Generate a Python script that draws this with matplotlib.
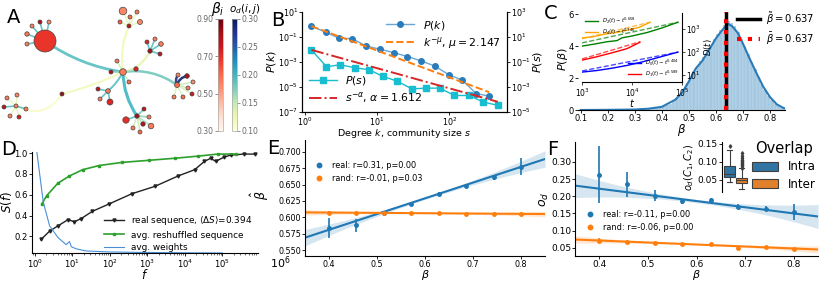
import numpy as np
import matplotlib
matplotlib.use('Agg')
import matplotlib.pyplot as plt
from matplotlib.patches import FancyArrowPatch, Patch
from matplotlib.lines import Line2D
from matplotlib.colors import Normalize
from matplotlib.cm import ScalarMappable
from matplotlib.ticker import FormatStrFormatter

W, H = 830, 281

# ---------------- A: community network ----------------
node_x = [45, 40, 32, 49, 27, 27, 123, 111, 117, 136, 129,
          123, 130, 137, 120, 129, 140,
          150, 147, 155, 161, 160,
          177, 178, 187, 193, 188, 192, 183, 174,
          108, 98, 100, 110,
          137, 144, 149, 126, 133, 143, 151, 140,
          62,
          16, 7, 17, 4, 26, 10, 19]
node_y = [41, 22, 26, 22, 34, 44, 72, 72, 61, 69, 82,
          11, 17, 12, 22, 26, 22,
          51, 42, 39, 44, 54,
          85, 75, 76, 82, 88, 94, 97, 97,
          91, 89, 99, 102,
          116, 109, 117, 120, 128, 124, 126, 132,
          94,
          106, 98, 95, 107, 109, 116, 117]
node_r = [11, 2, 2, 2, 2.2, 2, 3.3, 2, 2, 2.2, 2,
          3.8, 2, 2, 2, 2, 2.5,
          2.2, 2, 2, 2.3, 2,
          2.5, 2, 2.3, 2, 2, 2, 2, 2,
          2.3, 2, 2, 3,
          2.2, 2, 2, 3.2, 2, 2.2, 2.8, 2,
          2,
          2, 2, 2, 2, 2, 2, 2]
node_beta = [0.69, 0.80, 0.56, 0.55, 0.58, 0.56, 0.57, 0.80, 0.57, 0.72, 0.60,
             0.55, 0.60, 0.57, 0.62, 0.78, 0.55,
             0.82, 0.72, 0.57, 0.57, 0.78,
             0.60, 0.56, 0.80, 0.54, 0.57, 0.75, 0.60, 0.57,
             0.57, 0.78, 0.57, 0.72,
             0.82, 0.78, 0.57, 0.70, 0.57, 0.80, 0.57, 0.60,
             0.84,
             0.56, 0.57, 0.55, 0.78, 0.57, 0.56, 0.74]
# (source, target, overlap o_d, width, curvature)
edges = [(0, 6, 0.19, 2.0, 0.12), (6, 15, 0.12, 1.6, -0.15), (6, 17, 0.13, 1.6, 0.25),
         (6, 22, 0.18, 1.8, -0.2), (6, 34, 0.20, 2.2, 0.15), (6, 30, 0.19, 1.4, -0.1),
         (6, 42, 0.12, 1.5, -0.05), (42, 43, 0.11, 1.5, -0.45),
         (6, 7, 0.17, 1, 0), (6, 8, 0.15, 1, 0), (6, 9, 0.15, 1, 0), (6, 10, 0.15, 1, 0),
         (0, 1, 0.19, 1.2, 0), (0, 2, 0.19, 1.2, 0), (0, 3, 0.19, 1.2, 0),
         (0, 4, 0.19, 1.2, 0), (0, 5, 0.19, 1.2, 0),
         (15, 11, 0.13, 1, 0), (15, 12, 0.13, 1, 0), (15, 13, 0.13, 1, 0),
         (15, 14, 0.13, 1, 0), (15, 16, 0.13, 1, 0),
         (17, 18, 0.19, 1.2, 0), (17, 19, 0.19, 1.2, 0), (17, 20, 0.19, 1.2, 0), (17, 21, 0.19, 1.2, 0),
         (22, 23, 0.28, 1.8, -0.3), (22, 24, 0.29, 1.8, -0.3), (22, 25, 0.15, 1, 0),
         (22, 26, 0.15, 1, 0), (22, 27, 0.14, 1, 0), (22, 28, 0.14, 1, 0), (22, 29, 0.14, 1, 0),
         (30, 31, 0.19, 1.2, 0), (30, 32, 0.19, 1.2, 0), (30, 33, 0.19, 1.2, 0),
         (34, 35, 0.18, 1.2, 0), (34, 36, 0.17, 1.2, 0), (34, 37, 0.19, 1.2, 0), (34, 38, 0.15, 1, 0),
         (34, 39, 0.16, 1, 0), (34, 40, 0.16, 1, 0), (34, 41, 0.15, 1, 0),
         (43, 44, 0.13, 1, 0), (43, 45, 0.13, 1, 0), (43, 46, 0.19, 1.2, 0),
         (43, 47, 0.19, 1.2, 0), (43, 48, 0.13, 1, 0), (43, 49, 0.13, 1, 0)]

# ---------------- B: degree / community size distributions ----------------
deg_k = [1.24, 1.95, 2.95, 4.57, 7.08, 11.0, 17.0, 26.3, 40.7, 63.0, 97.7, 151, 234, 355]
p_k = [0.73, 0.245, 0.083, 0.072, 0.019, 0.0105, 0.0056, 0.00275, 0.00123,
       4.7e-4, 9.8e-5, 3.6e-5, 3.0e-6, 1.86e-6]
mu = 2.147
size_s = [1.24, 2.0, 3.1, 4.9, 7.8, 12.0, 19.1, 30.2, 47.9, 74.1, 117, 186, 295, 468]
p_s = [0.93, 0.042, 0.060, 0.035, 0.024, 0.0071, 0.0029, 7.1e-4, 8.1e-4, 8.1e-4,
       2.1e-4, 2.1e-4, 6.3e-5, 3.4e-5]
alpha = 1.612

# ---------------- C: distribution of beta ----------------
hist_left = [0.35 + 0.0125 * i for i in range(41)]
hist_h = [0.08, 0.10, 0.13, 0.17, 0.22, 0.30, 0.40, 0.55, 0.75, 1.00, 1.30, 1.70, 2.05,
          2.45, 2.75, 3.05, 3.35, 3.75, 4.10, 4.45, 4.75, 5.00, 5.35, 5.60, 5.45, 5.25,
          4.90, 4.45, 4.00, 3.50, 3.00, 2.55, 2.10, 1.65, 1.25, 0.90, 0.60, 0.38, 0.22,
          0.12, 0.05]
kde_b = [0.10, 0.20, 0.30, 0.35, 0.40, 0.45, 0.475, 0.50, 0.525, 0.55, 0.575, 0.60, 0.62,
         0.64, 0.645, 0.66, 0.68, 0.70, 0.725, 0.75, 0.775, 0.80, 0.825, 0.85, 0.87]
kde_d = [0.0, 0.01, 0.03, 0.08, 0.20, 0.65, 1.10, 1.80, 2.60, 3.10, 3.80, 4.50, 4.95,
         5.35, 5.40, 5.25, 4.85, 4.15, 3.20, 2.30, 1.45, 0.80, 0.35, 0.12, 0.04]
beta_median = 0.637
beta_mean = 0.637
# inset: D_i(t), log10 values
d4_logt = [3.0, 3.2, 3.45, 3.7, 3.95, 4.15, 4.36]
d4_logd = [2.62, 2.66, 2.78, 2.86, 2.98, 3.08, 3.30]
d2_logt = [3.0, 3.25, 3.5, 3.7, 3.8, 4.0, 4.3, 4.6, 4.92]
d2_logd = [2.26, 2.35, 2.45, 2.50, 2.62, 2.70, 2.85, 3.05, 3.30]
d1_logt = [3.0, 3.3, 3.6, 3.9, 4.16]
d1_logd = [1.65, 1.80, 1.97, 2.15, 2.43]
d0_logt = [3.0, 3.3, 3.6, 3.9, 4.2, 4.5, 4.92]
d0_logd = [1.13, 1.20, 1.30, 1.42, 1.57, 1.75, 2.00]
fit_ends = {'d4': (2.58, 3.30), 'd2': (2.40, 3.30), 'd1': (1.70, 2.45), 'd0': (1.18, 2.00)}

# ---------------- D: S(f) ----------------
real_logf = [0.16, 0.39, 0.61, 0.88, 1.05, 1.23, 1.53, 1.97, 2.59, 3.2, 3.82, 4.26,
             4.52, 4.69, 4.82, 5.04, 5.22, 5.57, 5.88]
real_s = [0.17, 0.25, 0.30, 0.36, 0.34, 0.37, 0.44, 0.51, 0.61, 0.68, 0.78, 0.84,
          0.92, 0.95, 0.92, 0.96, 0.98, 0.99, 0.99]
shuf_logf = [0.18, 0.31, 0.61, 0.92, 1.27, 1.71, 2.32, 3.03, 3.73, 4.34, 4.87, 5.35]
shuf_s = [0.51, 0.59, 0.71, 0.78, 0.84, 0.88, 0.91, 0.93, 0.95, 0.97, 0.99, 0.99]
wts_logf = [0.0, 0.22, 0.39, 0.61, 0.83, 0.92, 0.97, 1.1, 1.36, 1.97, 3.0, 4.0, 5.0]
wts_s = [1.15, 0.53, 0.30, 0.19, 0.12, 0.15, 0.10, 0.08, 0.06, 0.05, 0.045, 0.042, 0.04]

# ---------------- E / F: binned regressions ----------------
beta_bins = [0.400, 0.457, 0.514, 0.571, 0.629, 0.686, 0.743, 0.800]
e_real = [0.584, 0.588, 0.606, 0.621, 0.635, 0.648, 0.661, 0.677]
e_real_err = [0.015, 0.010, 0.004, 0.003, 0.003, 0.002, 0.004, 0.013]
e_rand = [0.607, 0.607, 0.606, 0.606, 0.606, 0.605, 0.605, 0.605]
e_rand_err = [0.002, 0.0015, 0.0015, 0.001, 0.001, 0.001, 0.001, 0.0015]
e_fit = {'real': (0.485, 0.24), 'rand': (0.6093, -0.005)}   # intercept, slope
f_real = [0.262, 0.235, 0.202, 0.185, 0.188, 0.170, 0.164, 0.154]
f_real_err = [0.083, 0.037, 0.015, 0.008, 0.007, 0.007, 0.008, 0.022]
f_rand = [0.071, 0.066, 0.063, 0.060, 0.060, 0.050, 0.052, 0.047]
f_rand_err = [0.008, 0.004, 0.003, 0.003, 0.003, 0.003, 0.003, 0.003]
f_fit = {'real': (0.294, -0.18), 'rand': (0.0943, -0.058)}
# inset boxplot of o_d(C1, C2)
box_intra = dict(med=0.0655, q1=0.057, q3=0.088, whislo=0.044, whishi=0.132, fliers=[0.143])
box_inter = dict(med=0.048, q1=0.041, q3=0.056, whislo=0.025, whishi=0.082,
                 fliers=[0.084, 0.087, 0.090, 0.093, 0.096, 0.099, 0.102, 0.106, 0.110, 0.115, 0.124])

C0, C1 = '#1f77b4', '#ff7f0e'

fig = plt.figure(figsize=(W / 100, H / 100), dpi=100)


def px_axes(x0, y0, x1, y1):
    return fig.add_axes([x0 / W, 1 - y1 / H, (x1 - x0) / W, (y1 - y0) / H])


def fx(x):
    return x / W


def fy(y):
    return 1 - y / H


# ---- A ----
axA = px_axes(0, 0, 200, 135)
axA.set_xlim(0, 200)
axA.set_ylim(135, 0)
axA.axis('off')
beta_norm = Normalize(0.3, 0.9)
od_norm = Normalize(0.1, 0.3)
reds = plt.get_cmap('Reds')
ygb = plt.get_cmap('YlGnBu')
for a, b, od, w, rad in edges:
    axA.add_patch(FancyArrowPatch((node_x[a], node_y[a]), (node_x[b], node_y[b]),
                                  arrowstyle='-', connectionstyle=f'arc3,rad={rad}',
                                  color=ygb(od_norm(od)), lw=w * 0.72 * 1.4,
                                  shrinkA=0, shrinkB=0, zorder=1, alpha=0.9))
axA.scatter(node_x, node_y, s=[(2 * r * 0.72) ** 2 for r in node_r],
            c=[reds(beta_norm(b)) for b in node_beta], edgecolors='#444444',
            linewidths=0.5, zorder=3)
cax_b = px_axes(218, 19, 223, 131)
cb1 = fig.colorbar(ScalarMappable(beta_norm, reds), cax=cax_b, ticks=[0.3, 0.5, 0.7, 0.9],
                   format='%.2f')
cax_b.yaxis.set_ticks_position('left')
cax_b.tick_params(labelsize=5.5, colors='#666666', length=2, width=0.5, pad=1)
cb1.outline.set_edgecolor('#aaaaaa')
cb1.outline.set_linewidth(0.5)
cax_o = px_axes(232, 19, 237, 131)
cb2 = fig.colorbar(ScalarMappable(od_norm, ygb), cax=cax_o,
                   ticks=[0.1, 0.15, 0.2, 0.25, 0.3], format='%.2f')
cax_o.tick_params(labelsize=5.5, colors='#666666', length=2, width=0.5, pad=1)
cb2.outline.set_edgecolor('#aaaaaa')
cb2.outline.set_linewidth(0.5)
fig.text(fx(218), fy(9), r'$\beta_i$', fontsize=10, ha='center', va='center')
fig.text(fx(245), fy(9), r'$o_d(i,j)$', fontsize=7.5, ha='center', va='center')

# ---- B ----
axB = px_axes(302, 12, 507, 112)
axB2 = axB.twinx()
axB.plot(deg_k, p_k, '-o', color='#6aa6d6', mfc='#2b7bba', mec='#2b7bba', ms=4, lw=1,
         label=r'$P(k)$')
k_fit = np.array([deg_k[0], deg_k[-1]])
axB.plot(k_fit, p_k[0] * (k_fit / deg_k[0]) ** (-mu), '--', color=C1, lw=1.4,
         label=r'$k^{-\mu}$, $\mu = 2.147$')
axB2.plot(size_s, p_s, '-s', color='#17becf', ms=4, lw=1, label=r'$P(s)$')
s_fit = np.array([size_s[0], size_s[-1]])
axB2.plot(s_fit, p_s[0] * (s_fit / size_s[0]) ** (-alpha), '-.', color='#d62728', lw=1.4,
          label=r'$s^{-\alpha}$, $\alpha = 1.612$')
for ax in (axB, axB2):
    ax.set_xscale('log')
    ax.set_yscale('log')
    ax.tick_params(labelsize=5.8, length=2, width=0.6, which='major', pad=0.8)
    ax.tick_params(which='minor', length=0)
    ax.spines['top'].set_visible(False)
axB.set_xlim(0.918, 627)
axB.set_ylim(1e-7, 1e1)
axB.set_yticks([1e-7, 1e-5, 1e-3, 1e-1, 1e1])
axB2.set_ylim(1e-5, 1e3)
axB2.set_yticks([1e-5, 1e-3, 1e-1, 1e1, 1e3])
axB.set_xticks([1, 10, 100])
axB.set_ylabel(r'$P(k)$', fontsize=8)
axB.yaxis.set_label_coords(-0.117, 0.5)
axB2.set_ylabel(r'$P(s)$', fontsize=8)
axB2.yaxis.set_label_coords(1.118, 0.5)
axB.set_xlabel(r'Degree $k$, community size $s$', fontsize=6.8)
axB.xaxis.set_label_coords(0.5, -0.155)
axB.legend(loc='upper right', frameon=False, fontsize=7.8, handlelength=2.6,
           borderaxespad=0.2, labelspacing=0.3)
axB2.legend(loc='lower left', frameon=False, fontsize=7.8, handlelength=2.6,
            borderaxespad=0.2, labelspacing=0.3)

# ---- C ----
axC = px_axes(578, 12, 785, 110)
axC.bar(hist_left, hist_h, width=0.0125, align='edge', color=C0, alpha=0.4,
        edgecolor='white', linewidth=0.3)
axC.plot(kde_b, kde_d, color='#2a7ab8', lw=1.5)
l1 = axC.axvline(beta_median, color='k', lw=2.5, label=r'$\tilde{\beta} = 0.637$')
l2 = axC.axvline(beta_mean, color='red', lw=3, ls=(0, (1, 1.6)), label=r'$\bar{\beta} = 0.637$')
axC.set_xlim(0.09, 0.855)
axC.set_ylim(0, 6.15)
axC.set_xticks([0.1, 0.2, 0.3, 0.4, 0.5, 0.6, 0.7, 0.8])
axC.tick_params(labelsize=6, length=2, width=0.6, pad=1)
for sp in ('top', 'right', 'left'):
    axC.spines[sp].set_visible(False)
axC.set_xlabel(r'$\beta$', fontsize=8.5)
axC.xaxis.set_label_coords(0.5, -0.12)
axC.set_ylabel(r'$P(\beta)$', fontsize=8)
axC.yaxis.set_label_coords(-0.04, 0.52)
fig.legend(handles=[l1, l2], loc='upper left', bbox_to_anchor=(fx(733), fy(6)),
           frameon=False, fontsize=7.2, handlelength=2.3, labelspacing=0.35,
           handletextpad=0.6, borderaxespad=0)

axI = px_axes(582, 13, 682, 82)
axI.patch.set_alpha(0)
ins = [(d2_logt, d2_logd, 'green', 'd2', r'$D_2(t) \sim t^{0.658}$'),
       (d4_logt, d4_logd, 'orange', 'd4', r'$D_4(t) \sim t^{0.746}$'),
       (d0_logt, d0_logd, 'blue', 'd0', r'$D_0(t) \sim t^{0.404}$'),
       (d1_logt, d1_logd, 'red', 'd1', r'$D_1(t) \sim t^{0.589}$')]
hs = []
for lt, ld, col, key, lab in ins:
    h, = axI.plot(10 ** np.array(lt), 10 ** np.array(ld), color=col, lw=1, label=lab)
    hs.append(h)
    axI.plot([10 ** lt[0], 10 ** lt[-1]], [10 ** fit_ends[key][0], 10 ** fit_ends[key][1]],
             '--', color=col, lw=1, alpha=0.7)
axI.set_xscale('log')
axI.set_yscale('log')
axI.set_xlim(1e3, 1e5)
axI.set_ylim(10 ** 0.7, 10 ** 3.7)
axI.set_yticks([10, 100, 1000])
axI.yaxis.tick_right()
axI.yaxis.set_label_position('right')
axI.tick_params(labelsize=5.5, length=2, width=0.5, pad=1)
axI.tick_params(which='minor', length=0)
axI.spines['top'].set_visible(False)
axI.spines['left'].set_visible(False)
axI.set_xlabel(r'$t$', fontsize=7, labelpad=-1)
axI.set_ylabel(r'$D(t)$', fontsize=6, labelpad=1)
lg = axI.legend(handles=hs[:2], loc='upper left', frameon=False, fontsize=3.8,
                handlelength=2.5, borderaxespad=0.1, labelspacing=0.2)
axI.add_artist(lg)
axI.legend(handles=hs[2:], loc='lower right', frameon=False, fontsize=3.8,
           handlelength=2.5, borderaxespad=0.1, labelspacing=0.2)

# ---- D ----
axD = px_axes(32, 152, 258, 253)
axD.plot(10 ** np.array(real_logf), real_s, '-v', color='#222222', ms=2.2, lw=1,
         label=r'real sequence, $\langle\Delta S\rangle$=0.394')
axD.plot(10 ** np.array(shuf_logf), shuf_s, '-s', color='#2ca02c', ms=1.8, lw=1.2,
         label='avg. reshuffled sequence')
axD.plot(10 ** np.array(wts_logf), wts_s, '-', color='#4a90d9', lw=0.8, label='avg. weights')
axD.set_xscale('log')
axD.set_xlim(10 ** -0.08, 10 ** 5.95)
axD.set_ylim(0.04, 1.01)
axD.set_xticks([1, 10, 100, 1e3, 1e4, 1e5])
axD.set_yticks([0.2, 0.4, 0.6, 0.8, 1.0])
axD.tick_params(labelsize=6.1, length=2, width=0.6, pad=1)
axD.tick_params(which='minor', length=1.5, width=0.4)
axD.spines['top'].set_visible(False)
axD.spines['right'].set_visible(False)
axD.set_xlabel(r'$f$', fontsize=8.5)
axD.xaxis.set_label_coords(0.5, -0.15)
axD.set_ylabel(r'$S(f)$', fontsize=8.5)
axD.yaxis.set_label_coords(-0.078, 0.5)
axD.legend(loc='center left', bbox_to_anchor=(fx(100), fy(233)),
           bbox_transform=fig.transFigure, frameon=False, fontsize=6.4,
           handlelength=2.3, labelspacing=0.35, borderaxespad=0)


def reg_panel(ax, real, real_err, rand, rand_err, fits, band):
    xs = np.linspace(0.35, 0.85, 50)
    for vals, errs, col, key in ((real, real_err, C0, 'real'), (rand, rand_err, C1, 'rand')):
        b0, b1 = fits[key]
        line = b0 + b1 * xs
        hw = band[key] * (1 + 6 * (xs - 0.6) ** 2 / 0.0625)
        ax.fill_between(xs, line - hw, line + hw, color=col, alpha=0.18, lw=0)
        ax.plot(xs, line, color=col, lw=1.5)
        ax.errorbar(beta_bins, vals, yerr=errs, fmt='o', color=col, ms=2.5,
                    elinewidth=1.2, capsize=0)
    ax.set_xlim(0.35, 0.85)
    ax.set_xticks([0.4, 0.5, 0.6, 0.7, 0.8])
    ax.spines['top'].set_visible(False)
    ax.spines['right'].set_visible(False)
    ax.tick_params(length=2, width=0.6, pad=0.8)
    ax.set_xlabel(r'$\beta$', fontsize=8)


mk = [Line2D([], [], marker='o', ls='', color=C0, ms=3.2),
      Line2D([], [], marker='o', ls='', color=C1, ms=3.2)]

# ---- E ----
axE = px_axes(305, 140, 545, 256)
reg_panel(axE, e_real, e_real_err, e_rand, e_rand_err, e_fit, {'real': 0.0018, 'rand': 0.0006})
axE.set_ylim(0.541, 0.718)
axE.set_yticks([0.55, 0.575, 0.6, 0.625, 0.65, 0.675, 0.7])
axE.yaxis.set_major_formatter(FormatStrFormatter('%.3f'))
axE.tick_params(labelsize=5.8)
axE.xaxis.set_label_coords(0.5, -0.105)
axE.set_ylabel(r'$\hat{\beta}$', fontsize=9)
axE.yaxis.set_label_coords(-0.142, 0.52)
axE.legend(mk, ['real: r=0.31, p=0.00', 'rand: r=-0.01, p=0.03'], loc='center left',
           bbox_to_anchor=(fx(309), fy(172)), bbox_transform=fig.transFigure,
           frameon=False, fontsize=5.9, handlelength=1.6, labelspacing=0.55, borderaxespad=0)
fig.text(fx(270), fy(263), r'$10^6$', fontsize=8, ha='left', va='center')

# ---- F ----
axF = px_axes(575, 142, 818, 256)
reg_panel(axF, f_real, f_real_err, f_rand, f_rand_err, f_fit, {'real': 0.005, 'rand': 0.0015})
axF.set_ylim(0.026, 0.358)
axF.set_yticks([0.05, 0.1, 0.15, 0.2, 0.25, 0.3])
axF.yaxis.set_major_formatter(FormatStrFormatter('%.2f'))
axF.tick_params(labelsize=6.5)
axF.xaxis.set_label_coords(0.5, -0.108)
axF.set_ylabel(r'$o_d$', fontsize=9)
axF.yaxis.set_label_coords(-0.1, 0.5)
axF.legend(mk, ['real: r=-0.11, p=0.00', 'rand: r=-0.06, p=0.00'], loc='center left',
           bbox_to_anchor=(fx(580), fy(221)), bbox_transform=fig.transFigure,
           frameon=False, fontsize=5.9, handlelength=1.6, labelspacing=0.55, borderaxespad=0)

axFI = px_axes(722, 142, 749, 192)
axFI.patch.set_alpha(0)
bp = axFI.bxp([box_intra, box_inter], positions=[-0.2, 0.2], widths=0.36, patch_artist=True,
              flierprops=dict(marker='d', ms=1.8, mfc='#3f3f3f', mec='#3f3f3f'),
              medianprops=dict(color='#3f3f3f', lw=0.8),
              whiskerprops=dict(color='#3f3f3f', lw=0.8),
              capprops=dict(color='#3f3f3f', lw=0.8),
              boxprops=dict(edgecolor='#3f3f3f', lw=0.8))
for patch, col in zip(bp['boxes'], ['#3274a1', '#e1812c']):
    patch.set_facecolor(col)
axFI.set_xlim(-0.45, 0.45)
axFI.set_ylim(0.016, 0.155)
axFI.set_yticks([0.05, 0.1, 0.15])
axFI.set_xticks([])
axFI.yaxis.set_major_formatter(FormatStrFormatter('%.2f'))
axFI.tick_params(labelsize=6.5, length=2, width=0.6, pad=1)
for sp in ('top', 'right', 'bottom'):
    axFI.spines[sp].set_visible(False)
axFI.set_ylabel(r'$o_d(C_1, C_2)$', fontsize=7, labelpad=1)
fig.legend(handles=[Patch(facecolor='#3274a1', edgecolor='#3f3f3f', lw=0.8),
                    Patch(facecolor='#e1812c', edgecolor='#3f3f3f', lw=0.8)],
           labels=['Intra', 'Inter'], title='Overlap', loc='upper left',
           bbox_to_anchor=(fx(750), fy(139)), frameon=False, fontsize=8.5,
           title_fontsize=10.5, handlelength=2.2, handleheight=0.9, labelspacing=0.35,
           borderaxespad=0, borderpad=0.2)

# panel letters
for lab, x, y in (('A', 7, 8), ('B', 271, 11), ('C', 544, 4), ('D', 1, 140), ('E', 267, 139), ('F', 547, 140)):
    fig.text(fx(x), fy(y), lab, fontsize=14, ha='left', va='top')

fig.savefig('out.png', dpi=100)
